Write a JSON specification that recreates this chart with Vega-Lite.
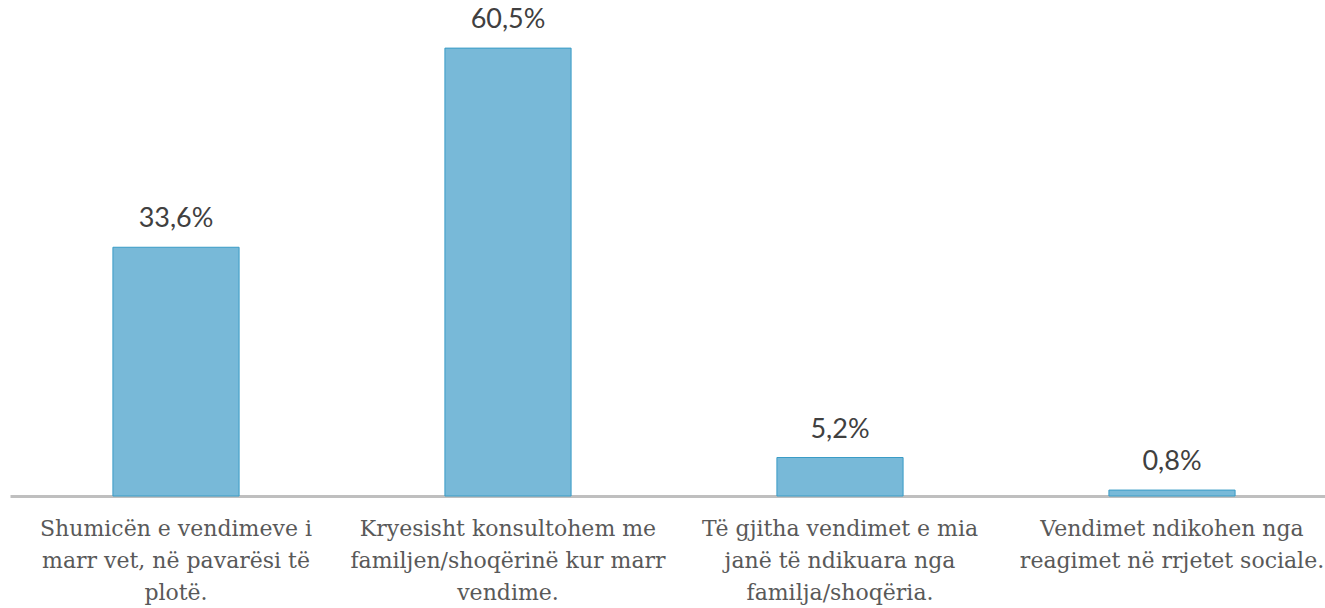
{
  "$schema": "https://vega.github.io/schema/vega-lite/v6.json",
  "width": 1328,
  "height": 496,
  "autosize": {"type": "none"},
  "padding": {"left": 10, "top": 0, "right": 0, "bottom": 112},
  "background": "white",
  "config": {"view": {"stroke": null}},
  "data": {
    "values": [
      {"cat": "Shumicën e vendimeve i\nmarr vet, në pavarësi të\nplotë.", "v": 33.6},
      {"cat": "Kryesisht konsultohem me\nfamiljen/shoqërinë kur marr\nvendime.", "v": 60.5},
      {"cat": "Të gjitha vendimet e mia\njanë të ndikuara nga\nfamilja/shoqëria.", "v": 5.2},
      {"cat": "Vendimet ndikohen nga\nreagimet në rrjetet sociale.", "v": 0.8}
    ]
  },
  "transform": [
    {"calculate": "replace(format(datum.v, '.1f'), '.', ',') + '%'", "as": "lab"}
  ],
  "encoding": {
    "x": {
      "field": "cat", "type": "nominal", "sort": null,
      "scale": {"paddingInner": 0.62, "paddingOuter": 0.31},
      "axis": {
        "title": null, "labelAngle": 0, "ticks": false,
        "domainColor": "#bfbfbf", "domainWidth": 3,
        "labelExpr": "split(datum.value, '\\n')",
        "labelFont": "DejaVu Serif", "labelFontSize": 22, "labelLineHeight": 32,
        "labelColor": "#595959", "labelPadding": 22, "labelBaseline": "top",
        "labelLimit": 400
      }
    },
    "y": {
      "field": "v", "type": "quantitative",
      "scale": {"domain": [0, 67], "nice": false},
      "axis": null
    }
  },
  "layer": [
    {"mark": {"type": "bar", "color": "#78b9d8", "stroke": "#3a9cc6", "strokeWidth": 1}},
    {
      "mark": {"type": "text", "baseline": "middle", "dy": -28, "font": "Lato", "fontSize": 27, "color": "#404040"},
      "encoding": {"text": {"field": "lab"}}
    }
  ]
}
